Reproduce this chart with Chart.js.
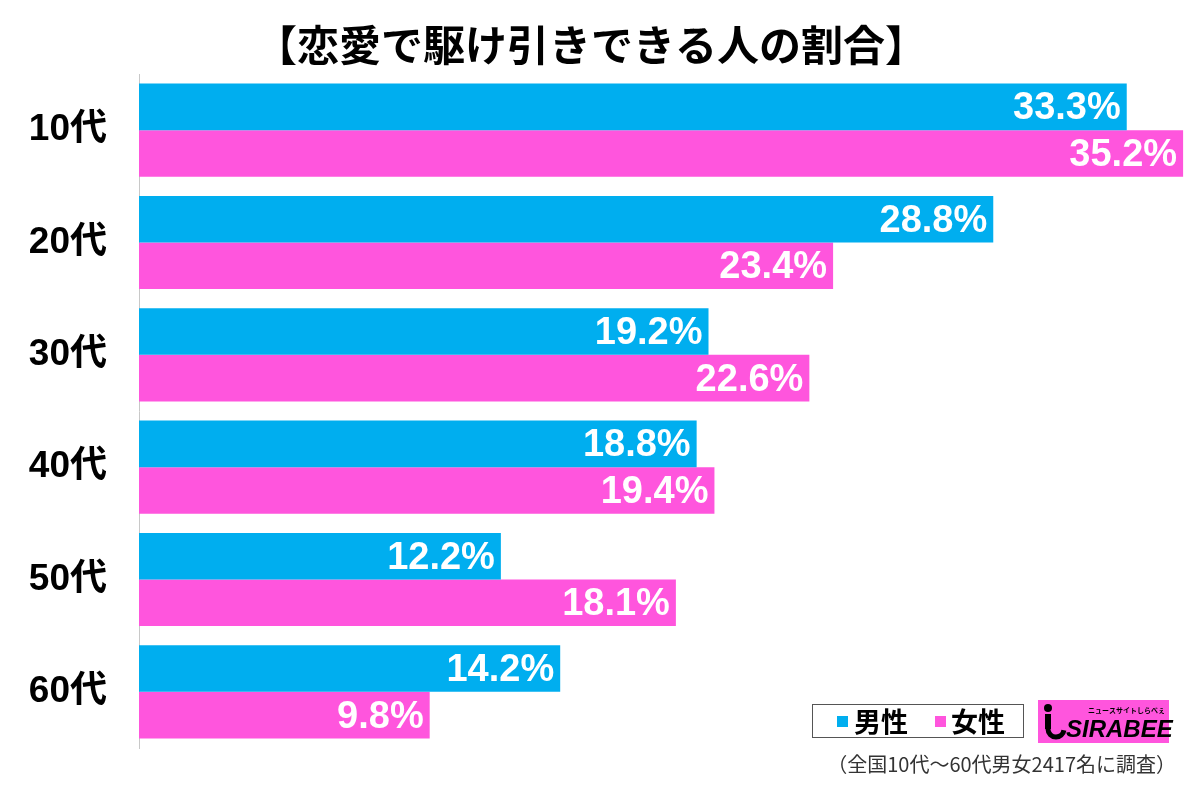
<!DOCTYPE html>
<html>
<head>
<meta charset="utf-8">
<script src="https://cdn.jsdelivr.net/npm/chart.js@4/dist/chart.umd.min.js"></script>
<style>
  html, body { margin: 0; padding: 0; background: #fff; }
  #wrap { width: 1200px; height: 789px; position: relative; }
</style>
</head>
<body>
<div id="wrap"><canvas id="chart" width="1200" height="789"></canvas></div>
<script>
// data
const ageGroups = ['10代', '20代', '30代', '40代', '50代', '60代'];
const maleValues = [33.3, 28.8, 19.2, 18.8, 12.2, 14.2];
const femaleValues = [35.2, 23.4, 22.6, 19.4, 18.1, 9.8];
const seriesNames = ['男性', '女性'];
const chartTitle = '【恋愛で駆け引きできる人の割合】';
const footNote = '（全国10代～60代男女2417名に調査）';

const BLUE = '#00AEEF';
const PINK = '#FF55DD';
const JP = '"Noto Sans CJK JP", sans-serif';
const NUM = '"Liberation Sans", "Noto Sans CJK JP", sans-serif';

// value labels drawn inside bar ends
const barLabels = {
    id: 'barLabels',
    afterDatasetsDraw(chart) {
        const ctx = chart.ctx;
        ctx.save();
        ctx.fillStyle = '#fff';
        ctx.font = 'bold 38px ' + NUM;
        ctx.textAlign = 'right';
        ctx.textBaseline = 'middle';
        chart.data.datasets.forEach((ds, i) => {
            chart.getDatasetMeta(i).data.forEach((bar, j) => {
                ctx.fillText(ds.data[j].toFixed(1) + '%', bar.x - 6, bar.y + 2);
            });
        });
        ctx.restore();
    }
};

// title, legend box, logo and footnote
const extras = {
    id: 'extras',
    afterDraw(chart) {
        const ctx = chart.ctx;
        ctx.save();
        ctx.fillStyle = '#000';
        ctx.font = 'bold 42px ' + JP;
        ctx.textAlign = 'center';
        ctx.textBaseline = 'middle';
        ctx.fillText(chartTitle, 591, 45);

        // legend
        ctx.fillStyle = '#fff';
        ctx.fillRect(812, 704, 211, 33);
        ctx.strokeStyle = '#555';
        ctx.lineWidth = 1;
        ctx.strokeRect(812.5, 704.5, 211, 33);
        ctx.textAlign = 'left';
        ctx.font = 'bold 27px ' + JP;
        ctx.fillStyle = BLUE;
        ctx.fillRect(837, 716, 11, 11);
        ctx.fillStyle = '#000';
        ctx.fillText(seriesNames[0], 854, 722);
        ctx.fillStyle = PINK;
        ctx.fillRect(935, 716, 11, 11);
        ctx.fillStyle = '#000';
        ctx.fillText(seriesNames[1], 951, 722);

        // logo
        ctx.fillStyle = PINK;
        ctx.fillRect(1038, 700, 131, 43);
        ctx.fillStyle = '#000';
        ctx.font = 'italic bold 24px ' + NUM;
        ctx.fillText('SIRABEE', 1066, 730);
        ctx.font = 'bold 7px ' + JP;
        ctx.fillText('ニュースサイトしらべぇ', 1088, 710);
        ctx.beginPath();
        ctx.arc(1048, 708, 4, 0, Math.PI * 2);
        ctx.fill();
        ctx.fillRect(1045, 714, 6, 15);
        ctx.beginPath();
        ctx.lineWidth = 5;
        ctx.strokeStyle = '#000';
        ctx.arc(1056, 729, 8, Math.PI, Math.PI * 2.05, true);
        ctx.stroke();

        // footnote
        ctx.fillStyle = '#333';
        ctx.font = '20px ' + JP;
        ctx.textAlign = 'right';
        ctx.fillText(footNote, 1176, 764);
        ctx.restore();
    }
};

new Chart(document.getElementById('chart').getContext('2d'), {
    type: 'bar',
    data: {
        labels: ageGroups,
        datasets: [
            { label: seriesNames[0], data: maleValues, backgroundColor: BLUE },
            { label: seriesNames[1], data: femaleValues, backgroundColor: PINK }
        ]
    },
    options: {
        indexAxis: 'y',
        responsive: false,
        animation: false,
        datasets: { bar: { categoryPercentage: 0.83, barPercentage: 1.0 } },
        layout: { padding: { top: 74, bottom: 41, left: 0, right: 8 } },
        plugins: {
            legend: { display: false },
            title: { display: false },
            tooltip: { enabled: false }
        },
        scales: {
            x: { display: false, min: 0, max: 35.5 },
            y: {
                afterFit(scale) {
                    scale.width = 139;
                    scale.paddingTop = 0;
                    scale.paddingBottom = 0;
                },
                grid: { display: false },
                border: { display: true, color: '#c8c8c8', width: 1 },
                ticks: {
                    color: '#000',
                    padding: 24,
                    font: { family: NUM, size: 37, weight: 'bold' }
                }
            }
        }
    },
    plugins: [barLabels, extras]
});
</script>
</body>
</html>
